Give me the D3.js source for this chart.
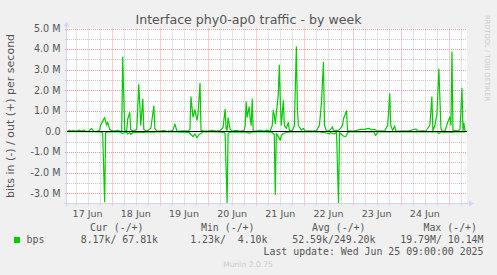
<!DOCTYPE html>
<html><head><meta charset="utf-8">
<script src="https://cdn.jsdelivr.net/npm/d3@7/dist/d3.min.js"></script>
<style>
html,body{margin:0;padding:0;background:#F0F0F0;}
svg{display:block;}
text{font-family:"DejaVu Sans",sans-serif;}
.mono{font-family:"DejaVu Sans Mono",monospace;white-space:pre;}
</style></head><body>
<script>
// ---- data (hours since 2025-06-17 00:00, values in Mbit/s) ----
const title = "Interface phy0-ap0 traffic - by week";
const yTitle = "bits in (-) / out (+) per second";
const dayLabels = ["17 Jun","18 Jun","19 Jun","20 Jun","21 Jun","22 Jun","23 Jun","24 Jun"];
const yTickValues = [-3,-2,-1,0,1,2,3,4,5];
const yTickLabels = ["-3.0 M","-2.0 M","-1.0 M","0.0","1.0 M","2.0 M","3.0 M","4.0 M","5.0 M"];
const timeRange = [1.75, 201];
const valueRange = [-3.5, 5];
const outHours = [2,3,4,5,6,8,9,10,11,12.5,14,15,16.5,18,18.5,19.5,20.5,21.5,22,23,24,25,27,28,29,29.5,30.5,31.5,32,33,33.5,34.5,35.5,36.5,37.5,38.5,39.5,40,41,42,43.5,45,45.5,46.5,48.5,50,51.5,53.5,54.5,55.5,56.5,58,60,62,63,63.5,64.5,65.5,66.5,67,68,68.5,70,72,74,76,78,79.5,80.5,81,81.5,82,83,84,86,88,90,90.5,91,91.5,92.5,93,93.5,94,94.5,96,98,100,101,103,104,104.5,105,105.5,107,107.5,108,108.5,109.5,110,111,112,112.5,114,115,116,116.5,117,118.5,119.5,120.5,122,124,126,127.5,128.5,129.5,130,131,132.5,133.5,134,134.5,136,137,138,139,139.5,140.5,141,141.5,143,144.5,146,148,150,152,153.5,155,156,158,160,161.5,162.5,163,164,165,165.5,167.5,169.5,171.5,174,175.5,176.5,178.5,180.5,182.5,183.5,184,185,186,187,188,188.5,190,191.5,192.5,193,193.5,194,195,196.5,197.5,198.5,199,199.5,200];
const outValues = [0.02,0.05,0.02,0.06,0.02,0.06,0.01,0.07,0.02,0.01,0.15,0.02,0.01,0.05,0.3,0.5,0.68,0.3,0.45,0.1,0.05,0.02,0.05,0.02,0.02,3.6,0.02,0.05,0.6,0.92,0.1,0.02,0.05,0.1,2.28,0.3,1.57,0.1,0.02,0.05,0.15,1.23,0.15,0.02,0.02,0.05,0.01,0.03,0.05,0.36,0.02,0.02,0.03,0.02,0.1,1.68,0.7,1.05,0.55,0.85,2.33,0.05,0.02,0.03,0.05,0.02,0.04,0.2,1.07,0.15,0.05,0.66,0.1,0.02,0.05,0.02,0.04,0.3,1.44,0.7,1.2,0.6,0.3,1.57,0.02,0.03,0.05,0.02,0.06,0.02,0.3,1.03,0.8,0.38,1.8,3.22,1.45,0.3,1.5,0.3,0.15,0.44,0.05,0.02,0.3,4.11,1.12,0.3,0.06,0.15,0.02,0.03,0.02,0.04,0.3,1.4,3.35,0.3,0.02,0.05,0.15,0.23,0.02,0.05,0.06,0.15,0.3,0.63,0.87,1.0,0.02,0.03,0.02,0.05,0.1,0.1,0.15,0.08,0.1,0.02,0.03,0.02,0.3,1.84,0.3,0.05,0.27,0.02,0.02,0.03,0.02,0.08,0.12,0.02,0.03,0.02,0.3,1.68,0.02,0.3,0.8,3.03,0.15,0.02,0.02,0.47,0.7,0.3,3.87,0.02,0.06,0.02,0.1,2.09,0.02,0.4,0.02];
const inHours = [2,10,18,19.5,20.5,21,23,28,29,29.5,30.5,31.5,32,33,33.5,34.5,36,38,40,42,45,47,55,62.5,63.5,64.5,65.5,66.5,67.5,68.5,69.5,75,80,80.5,81.5,82,83,91,92.5,93.5,94.5,100,104,105,105.5,106,107,108,108.5,109.5,111,113,120,127.5,129.5,131.5,132.5,133,134,135,136,137,137.5,138.5,139.5,140.5,141,141.5,143,149,154.5,155.5,156.5,165,175,186,187,188,193.5,194.5,200];
const inValues = [-0.01,-0.01,-0.02,-0.05,-3.41,-0.05,-0.02,-0.02,-0.08,-0.1,-0.05,-0.03,-0.12,-0.05,-0.15,-0.05,-0.03,-0.05,-0.05,-0.02,-0.03,-0.01,-0.02,-0.05,-0.15,-0.25,-0.12,-0.3,-0.15,-0.1,-0.02,-0.01,-0.05,-0.1,-3.45,-0.1,-0.02,-0.03,-0.08,-0.05,-0.02,-0.01,-0.05,-0.15,-3.06,-0.1,-0.25,-0.42,-0.2,-0.1,-0.05,-0.02,-0.01,-0.02,-0.05,-0.08,-0.12,-0.05,-0.1,-0.12,-0.05,-3.46,-0.05,-0.15,-0.22,-0.25,-0.2,-0.05,-0.02,-0.01,-0.02,-0.2,-0.02,-0.01,-0.02,-0.02,-0.1,-0.02,-0.05,-0.02,-0.02];
const legendName = "bps";
const legendHeaders = ["Cur (-/+)","Min (-/+)","Avg (-/+)","Max (-/+)"];
const legendValues = ["8.17k/ 67.81k","1.23k/  4.10k","52.59k/249.20k","19.79M/ 10.14M"];
const lastUpdate = "Last update: Wed Jun 25 09:00:00 2025";

// ---- drawing ----
const W = 497, H = 275;
const L = 67, R = 467, T = 28.5, B = 203.5;
const green = "#00CC00", axisCol = "#CFD6F8", fontCol = "#555555";
const svg = d3.select("body").append("svg").attr("width", W).attr("height", H);
svg.append("rect").attr("width", W).attr("height", H).attr("fill", "#F0F0F0");
const x = d3.scaleLinear().domain(timeRange).range([L, R]);
const y = d3.scaleLinear().domain(valueRange).range([B, T]);
svg.append("rect").attr("x", L).attr("y", T).attr("width", R - L).attr("height", B - T).attr("fill", "#fff");

// grid
const g = svg.append("g");
const minorX = d3.range(6, timeRange[1], 6).filter(h => h % 24 !== 0);
const majorX = d3.range(24, timeRange[1], 24);
const minorY = d3.range(valueRange[0] + 0.5, valueRange[1] + 0.01, 0.5).filter(v => Math.abs(v % 1) > 0.01);
const majorY = yTickValues;
minorX.forEach(h => g.append("line").attr("x1", Math.round(x(h)) + 0.5).attr("x2", Math.round(x(h)) + 0.5).attr("y1", T).attr("y2", B + 2).attr("stroke", "#C8C8C8").attr("stroke-dasharray", "1,1"));
minorY.forEach(v => g.append("line").attr("y1", Math.round(y(v)) + 0.5).attr("y2", Math.round(y(v)) + 0.5).attr("x1", L - 2).attr("x2", R).attr("stroke", "#C8C8C8").attr("stroke-dasharray", "1,1"));
majorX.forEach(h => g.append("line").attr("x1", Math.round(x(h)) + 0.5).attr("x2", Math.round(x(h)) + 0.5).attr("y1", T).attr("y2", B + 2).attr("stroke", "#EE9A9A").attr("stroke-dasharray", "1,1"));
majorY.forEach(v => g.append("line").attr("y1", Math.round(y(v)) + 0.5).attr("y2", Math.round(y(v)) + 0.5).attr("x1", L - 2).attr("x2", R).attr("stroke", "#EE9A9A").attr("stroke-dasharray", "1,1"));

// data lines
svg.append("clipPath").attr("id", "c").append("rect").attr("x", L).attr("y", T).attr("width", R - L).attr("height", B - T);
const line = d3.line().x(d => x(d[0])).y(d => y(d[1]));
const outData = outHours.map((h, i) => [h, outValues[i]]);
const inData = inHours.map((h, i) => [h, inValues[i]]);
[inData, outData].forEach(d => svg.append("path").datum(d).attr("d", line).attr("fill", "none").attr("stroke", green).attr("stroke-width", 1.2).attr("stroke-linejoin", "round").attr("clip-path", "url(#c)"));
// zero rule
svg.append("line").attr("x1", L).attr("x2", R).attr("y1", Math.round(y(0)) + 0.5).attr("y2", Math.round(y(0)) + 0.5).attr("stroke", "#000").attr("stroke-width", 1);

// axes with arrows
const ax = svg.append("g").attr("stroke", axisCol).attr("fill", axisCol);
ax.append("line").attr("x1", L - 3).attr("x2", R + 3).attr("y1", B).attr("y2", B);
ax.append("path").attr("d", `M${R + 2},${B - 3}L${R + 7},${B}L${R + 2},${B + 3}Z`).attr("stroke", "none");
ax.append("line").attr("x1", L - 0.5).attr("x2", L - 0.5).attr("y1", B + 3).attr("y2", T - 3);
ax.append("path").attr("d", `M${L - 3.5},${T - 2}L${L - 0.5},${T - 7}L${L + 2.5},${T - 2}Z`).attr("stroke", "none");

// tick labels
yTickValues.forEach((v, i) => svg.append("text").attr("x", 60.5).attr("y", y(v) + 3.4).attr("text-anchor", "end").attr("font-size", 9.6).attr("fill", fontCol).text(yTickLabels[i]));
dayLabels.forEach((t, i) => svg.append("text").attr("x", x(12 + 24 * i)).attr("y", 216.5).attr("text-anchor", "middle").attr("font-size", 9.5).attr("fill", fontCol).text(t));

// titles
svg.append("text").attr("x", 248.5).attr("y", 23.5).attr("text-anchor", "middle").attr("font-size", 12.6).attr("fill", fontCol).text(title);
svg.append("text").attr("transform", `translate(14.3,${(T + B) / 2}) rotate(-90)`).attr("text-anchor", "middle").attr("font-size", 11).attr("fill", fontCol).text(yTitle);
svg.append("text").attr("transform", "translate(485,15) rotate(90)").attr("font-size", 6.7).attr("fill", "#CCCCCC").text("RRDTOOL / TOBI OETIKER");

// legend
svg.append("rect").attr("x", 14).attr("y", 237).attr("width", 6).attr("height", 6).attr("fill", green);
svg.append("text").attr("class", "mono").attr("x", 26.5).attr("y", 243.3).attr("font-size", 9.9).attr("fill", fontCol).text(legendName);
const hdrRight = [143.5, 254.5, 365.5, 477];
const valRight = [158, 267.5, 375.5, 483.5];
legendHeaders.forEach((t, i) => svg.append("text").attr("class", "mono").attr("x", hdrRight[i]).attr("y", 230.5).attr("text-anchor", "end").attr("font-size", 9.9).attr("fill", fontCol).text(t));
legendValues.forEach((t, i) => svg.append("text").attr("class", "mono").attr("x", valRight[i]).attr("y", 243.3).attr("text-anchor", "end").attr("font-size", 9.9).attr("fill", fontCol).text(t));
svg.append("text").attr("class", "mono").attr("x", 483.5).attr("y", 255.3).attr("text-anchor", "end").attr("font-size", 9.9).attr("fill", fontCol).text(lastUpdate);
svg.append("text").attr("x", 248).attr("y", 266.5).attr("text-anchor", "middle").attr("font-size", 7.6).attr("fill", "#CCCCCC").text("Munin 2.0.75");
</script>
</body></html>
